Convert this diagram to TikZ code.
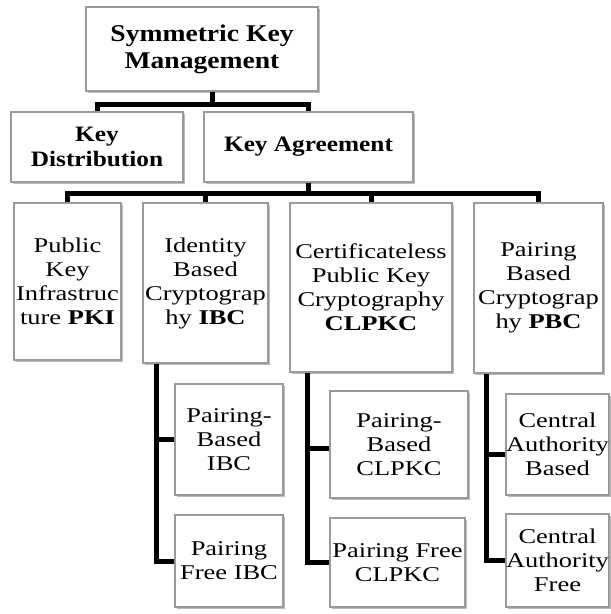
\documentclass[tikz,border=0pt]{standalone}
\usepackage{fontspec}
\setmainfont{Liberation Serif}
\newfontfamily\topfont{Liberation Serif}[FakeStretch=1.15]
\newfontfamily\lowfont{Liberation Serif}[FakeStretch=1.26]
\usetikzlibrary{shadows,calc}
\definecolor{boxborder}{HTML}{9A9A9A}
\tikzset{
  box/.style={draw=boxborder, line width=1.5pt, fill=white, inner sep=0pt, align=center,
    drop shadow={shadow xshift=1.5pt, shadow yshift=-2pt, opacity=0.45, fill=black!60}},
  topbox/.style={box, font=\topfont\fontsize{24}{27}\selectfont\bfseries},
  lowbox/.style={box, font=\lowfont\fontsize{21}{24}\selectfont},
  conn/.style={line width=5pt, black}
}
\begin{document}
\begin{tikzpicture}[x=1pt,y=-1pt]
\useasboundingbox (0,0) rectangle (611,614);
% level 1 and 2
\node[topbox, minimum width=232pt, minimum height=84pt] (top) at (202,49) {Symmetric Key\\Management};
\node[topbox, font=\topfont\fontsize{22}{25}\selectfont\bfseries, minimum width=172pt, minimum height=70pt] (kd) at (97,147) {Key\\Distribution};
\node[topbox, font=\topfont\fontsize{22}{25}\selectfont\bfseries, minimum width=209pt, minimum height=70pt] (ka) at (308.5,147) {Key Agreement};
% level 3
\node[lowbox, minimum width=107pt, minimum height=157pt] (pki) at (67.5,281.5) {Public\\Key\\Infrastruc\\ture \textbf{PKI}};
\node[lowbox, minimum width=125pt, minimum height=160pt] (ibc) at (205.5,283) {Identity\\Based\\Cryptograp\\hy \textbf{IBC}};
\node[lowbox, minimum width=162pt, minimum height=169pt] (clpkc) at (371,287.5) {Certificateless\\Public Key\\Cryptography\\\textbf{CLPKC}};
\node[lowbox, minimum width=129pt, minimum height=170pt] (pbc) at (538.5,288) {Pairing\\Based\\Cryptograp\\hy \textbf{PBC}};
% level 4
\node[lowbox, minimum width=108pt, minimum height=111pt] (pbibc) at (229,439.5) {Pairing-\\Based\\IBC};
\node[lowbox, minimum width=108pt, minimum height=92pt] (pfibc) at (229,561) {Pairing\\Free IBC};
\node[lowbox, minimum width=138pt, minimum height=107pt] (pbcl) at (399,444.5) {Pairing-\\Based\\CLPKC};
\node[lowbox, minimum width=135pt, minimum height=89pt] (pfcl) at (397.5,562.5) {Pairing Free\\CLPKC};
\node[lowbox, minimum width=103pt, minimum height=101pt] (cab) at (557.5,444.5) {Central\\Authority\\Based};
\node[lowbox, minimum width=103pt, minimum height=93pt] (caf) at (557.5,560.5) {Central\\Authority\\Free};
% connectors level 1-2
\coordinate (b1) at (212,104);
\draw[conn] (top.south -| b1) -- (b1);
\draw[conn] (kd.north) -- (kd.north |- b1) -- (ka.north |- b1) -- (ka.north);
% connectors level 2-3
\coordinate (b2) at (308.5,193);
\draw[conn] (ka.south) -- (b2);
\draw[conn] (pki.north) -- (pki.north |- b2) -- (pbc.north |- b2) -- (pbc.north);
\draw[conn] (ibc.north |- b2) -- (ibc.north);
\draw[conn] (clpkc.north |- b2) -- (clpkc.north);
% connectors level 3-4
\coordinate (s1) at ($(ibc.south west)+(14,0)$);
\draw[conn] (s1) |- (pfibc.west);
\draw[conn] (pbibc.west) -- (pbibc.west -| s1);
\coordinate (s2) at ($(clpkc.south west)+(18,0)$);
\draw[conn] (s2) |- (pfcl.west);
\draw[conn] ($(pbcl.west)+(0,3.5)$) -- ($(pbcl.west -| s2)+(0,3.5)$);
\coordinate (s3) at ($(pbc.south west)+(13,0)$);
\draw[conn] (s3) |- (caf.west);
\draw[conn] ($(cab.west)+(0,10)$) -- ($(cab.west -| s3)+(0,10)$);
\end{tikzpicture}
\end{document}
